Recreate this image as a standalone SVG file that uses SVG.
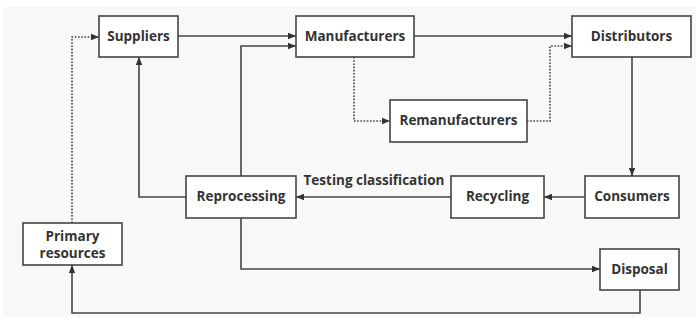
<svg xmlns="http://www.w3.org/2000/svg" width="699" height="324" viewBox="0 0 699 324">
<style>
.box{fill:#fff;stroke:#444;stroke-width:1.6}
.t{font-family:"Open Sans","Noto Sans","Liberation Sans",sans-serif;font-weight:bold;font-size:13.5px;fill:#333;text-anchor:middle}
.c{fill:none;stroke:#444;stroke-width:1.6}
.d{fill:none;stroke:#444;stroke-width:1.6;stroke-dasharray:1.6 1.6}
</style>
<defs>
<marker id="ahL" viewBox="0 0 10 10" refX="10" refY="5" markerWidth="8" markerHeight="8" orient="auto" markerUnits="userSpaceOnUse"><path d="M0,1 L10,5 L0,9 z" fill="#333"/></marker>
</defs>
<rect x="3" y="7" width="693" height="310" fill="#f8f8f8"/>
<g id="connectors">
<path class="c" d="M178,36 H296" marker-end="url(#ahL)"/>
<path class="c" d="M241,176 V46 H296" marker-end="url(#ahL)"/>
<path class="c" d="M186,197 H139 V57" marker-end="url(#ahL)"/>
<path class="d" d="M72,223 V37 H99" marker-end="url(#ahL)"/>
<path class="c" d="M414,36 H572" marker-end="url(#ahL)"/>
<path class="d" d="M354,57 V121 H390" marker-end="url(#ahL)"/>
<path class="d" d="M527,121 H550 V46 H572" marker-end="url(#ahL)"/>
<path class="c" d="M632,57 V176" marker-end="url(#ahL)"/>
<path class="c" d="M585,197 H544" marker-end="url(#ahL)"/>
<path class="c" d="M451,197 H296" marker-end="url(#ahL)"/>
<text class="t" x="374" y="185">Testing classification</text>
<path class="c" d="M241,218 V269 H600" marker-end="url(#ahL)"/>
<path class="c" d="M640,290 V313 H72 V265" marker-end="url(#ahL)"/>
</g>
<g id="suppliers"><rect class="box" x="99" y="16" width="79" height="41"/><text class="t" x="138.5" y="41">Suppliers</text></g>
<g id="manufacturers"><rect class="box" x="296" y="16" width="118" height="41"/><text class="t" x="355" y="41">Manufacturers</text></g>
<g id="distributors"><rect class="box" x="572" y="16" width="119" height="41"/><text class="t" x="631.5" y="41">Distributors</text></g>
<g id="remanufacturers"><rect class="box" x="390" y="100" width="137" height="42"/><text class="t" x="458.5" y="125">Remanufacturers</text></g>
<g id="reprocessing"><rect class="box" x="186" y="176" width="110" height="42"/><text class="t" x="241" y="201">Reprocessing</text></g>
<g id="recycling"><rect class="box" x="451" y="176" width="93" height="42"/><text class="t" x="497.5" y="201">Recycling</text></g>
<g id="consumers"><rect class="box" x="585" y="176" width="94" height="42"/><text class="t" x="632" y="201">Consumers</text></g>
<g id="primary-resources"><rect class="box" x="23" y="223" width="99" height="42"/><text class="t" x="72.5" y="241">Primary</text><text class="t" x="72.5" y="258">resources</text></g>
<g id="disposal"><rect class="box" x="600" y="249" width="79" height="41"/><text class="t" x="639.5" y="274">Disposal</text></g>
</svg>
